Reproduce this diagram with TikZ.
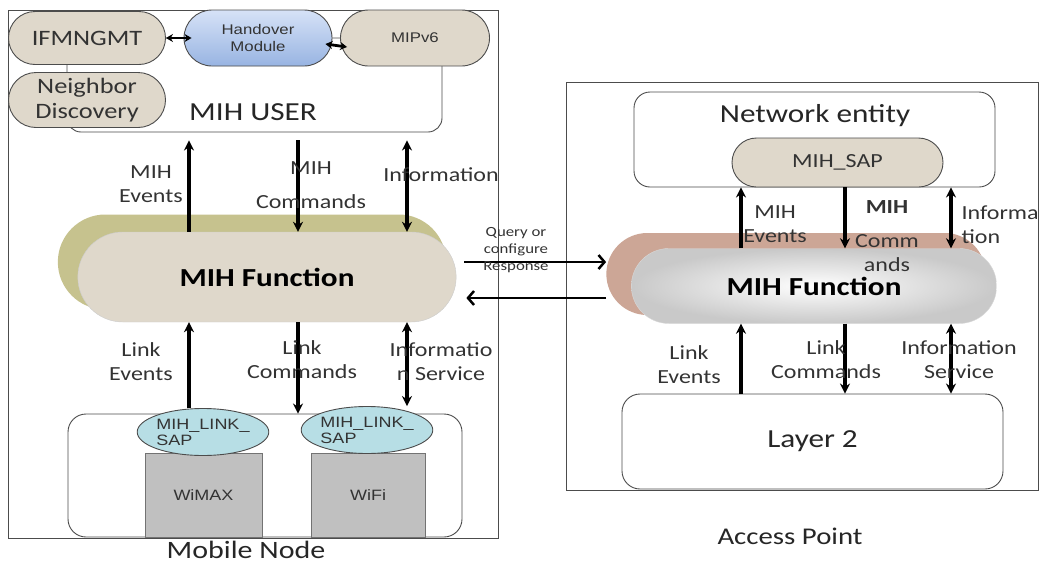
\documentclass[tikz,border=0pt]{standalone}
\usepackage{fontspec}
\setmainfont{Carlito}[FakeStretch=1.2]
\newfontfamily\arialfont{Liberation Sans}[FakeStretch=1.2]
\usetikzlibrary{shapes.geometric,shapes.misc,arrows.meta}
\definecolor{stonec}{RGB}{223,216,203}
\definecolor{sapc}{RGB}{183,222,229}
\definecolor{radioc}{RGB}{192,192,192}
\definecolor{hotop}{RGB}{214,226,247}
\definecolor{hobot}{RGB}{152,180,226}
\definecolor{olivec}{RGB}{198,194,142}
\definecolor{rosec}{RGB}{204,166,150}
\definecolor{marblec}{RGB}{236,236,236}
\newcommand\fsz[2]{\fontsize{#1}{#2}\selectfont}

\begin{document}
\begin{tikzpicture}[x=1pt,y=-1pt,
  frame/.style={draw=black!70,line width=0.9pt,inner sep=0pt},
  box/.style={draw=black!70,line width=0.9pt,rounded corners=14pt,fill=white,inner sep=0pt},
  stone/.style={draw=black!70,line width=0.9pt,fill=stonec,rounded rectangle,inner sep=0pt,
    align=center,text=black!80,font=\fsz{22}{25}},
  sap/.style={draw=black!70,line width=0.9pt,fill=sapc,ellipse,inner sep=0pt,
    align=left,text=black!80,font=\arialfont\fsz{15}{16}},
  radio/.style={draw=black!55,line width=0.9pt,fill=radioc,inner sep=0pt,
    minimum height=84pt,text=black!80,font=\arialfont\fsz{15}{16}},
  lbl/.style={align=center,text=black!80,font=\fsz{20}{24}},
  flow/.style={line width=3.4pt,-{Stealth[length=10pt,width=10pt]}},
  bflow/.style={line width=3.4pt,{Stealth[length=10pt,width=10pt]}-{Stealth[length=10pt,width=10pt]}},
  sflow/.style={line width=2.8pt,{Stealth[length=7pt,width=8pt]}-{Stealth[length=7pt,width=8pt]}},
  qflow/.style={line width=2.5pt,-{Straight Barb[length=6pt,width=14pt]}}]
\useasboundingbox (0,0) rectangle (1040,565);

\node[frame,minimum width=490pt,minimum height=528pt] (mn) at (253,274) {};
\node[frame,minimum width=472pt,minimum height=408pt] (ap) at (802,286) {};
\node[font=\fsz{25}{28},text=black!85] (mnname) at (246,550) {Mobile Node};
\node[font=\fsz{24}{28},text=black!85] (apname) at (790,536) {Access Point};

\node[box,minimum width=375pt,minimum height=94pt] (user) at (254.5,85) {};
\node[font=\fsz{26}{30},text=black!85] (usertxt) at (253,112) {MIH USER};
\node[stone,minimum width=157pt,minimum height=53pt] (ifm) at (87,38) {IFMNGMT};
\node[stone,minimum width=157pt,minimum height=55pt] (nd) at (87,100) {Neighbor\\Discovery};
\node[stone,draw=black!70,top color=hotop,bottom color=hobot,minimum width=148pt,minimum height=56pt,
  font=\arialfont\fsz{14}{17}] (ho) at (258,38) {Handover\\Module};
\node[stone,minimum width=149pt,minimum height=56pt,font=\arialfont\fsz{14}{17}] (mip) at (415,38) {MIPv6};
\draw[sflow] (ifm.east) -- ([xshift=8pt]ho.west);
\draw[sflow] ([xshift=-7pt,yshift=-6pt]ho.east) -- ([xshift=7pt,yshift=-9pt]mip.west);

\node[rounded rectangle,fill=olivec,minimum width=395pt,minimum height=95pt] (shL) at (252,262) {};
\node[rounded rectangle,draw=black!20,fill=stonec,minimum width=385pt,minimum height=90pt,
  font=\bfseries\fsz{26}{30}] (funL) at (267,277) {MIH Function};

\node[box,rounded corners=18pt,minimum width=394pt,minimum height=123pt] (low) at (265,475.5) {};
\node[radio,minimum width=117pt] (wimax) at (203.5,495) {WiMAX};
\node[radio,minimum width=114pt] (wifi) at (368,495) {WiFi};
\node[sap,minimum width=117pt,minimum height=47pt] (sap1) at (203,432) {MIH\_LINK\_\\SAP};
\node[sap,minimum width=115pt,minimum height=47pt] (sap2) at (367,430) {MIH\_LINK\_\\SAP};

\coordinate (a1) at (189,0);
\coordinate (a2) at (298,0);
\coordinate (a3) at (407,0);
\coordinate (b1) at (741,0);
\coordinate (b2) at (845,0);
\coordinate (b3) at (951,0);
\coordinate (q1) at (0,262);
\coordinate (q2) at (0,298);

\draw[flow,shorten >=8pt] (funL.north -| a1) -- (user.south -| a1);
\draw[flow,shorten <=8pt] (user.south -| a2) -- (funL.north -| a2);
\draw[bflow,shorten <=8pt] (user.south -| a3) -- (funL.north -| a3);
\draw[flow] (sap1.north -| a1) -- (funL.south -| a1);
\draw[flow] (funL.south -| a2) -- (low.north -| a2);
\draw[bflow] (funL.south -| a3) -- (sap2.north -| a3);

\node[lbl] (mevL) at (151,184) {MIH\\Events};
\node[lbl] (mcmL) at (311,185) {MIH\\[10pt]Commands};
\node[lbl] (minL) at (441,175) {Information};
\node[lbl] (levL) at (141,362) {Link\\Events};
\node[lbl] (lcmL) at (302,360) {Link\\Commands};
\node[lbl] (linL) at (441,362) {Informatio\\n Service};

\node[box,rounded corners=16pt,minimum width=361pt,minimum height=95pt] (net) at (814.5,139.5) {};
\node[font=\fsz{26}{30},text=black!85] (nettxt) at (815,116) {Network entity};
\node[stone,minimum width=211pt,minimum height=49pt,font=\fsz{20}{24}] (msap) at (837.5,162.5) {MIH\_SAP};

\node[rounded rectangle,fill=rosec,minimum width=386pt,minimum height=82pt] (shR) at (796,274) {};
\node[rounded rectangle,draw=black!15,inner color=white,outer color=marblec!85!black,
  minimum width=372pt,minimum height=75pt,font=\bfseries\fsz{26}{30}] (funR) at (814,286) {MIH Function};

\node[box,rounded corners=18pt,minimum width=381pt,minimum height=95pt,
  font=\fsz{26}{30},text=black!85] (layer) at (812.5,441.5) {Layer 2};

\draw[flow] (funR.north -| b1) -- (net.south -| b1);
\draw[flow] (net.south -| b2) -- (funR.north -| b2);
\draw[bflow] (net.south -| b3) -- (funR.north -| b3);
\draw[flow] (layer.north -| b1) -- (funR.south -| b1);
\draw[flow] (funR.south -| b2) -- (layer.north -| b2);
\draw[bflow] (funR.south -| b3) -- (layer.north -| b3);

\node[lbl] (mevR) at (775,224) {MIH\\Events};
\node[lbl,font=\fsz{20}{24}] (mcmR) at (887,236) {\textbf{MIH}\\[10pt]Comm\\ands};
\node[lbl,align=left,anchor=west] (minR) at (958,225) {Informa\\tion};
\node[lbl] (levR) at (689,365) {Link\\Events};
\node[lbl] (lcmR) at (826,360) {Link\\Commands};
\node[lbl] (linR) at (959,360) {Information\\Service};

\draw[qflow,shorten <=8pt] (funL.east |- q1) -- (shR.west |- q1);
\draw[qflow,shorten >=10pt] (shR.west |- q2) -- (funL.east |- q2);
\node[align=center,text=black!80,font=\fsz{14}{17}] (qry) at (516,250) {Query or\\configure\\Response};
\end{tikzpicture}
\end{document}
